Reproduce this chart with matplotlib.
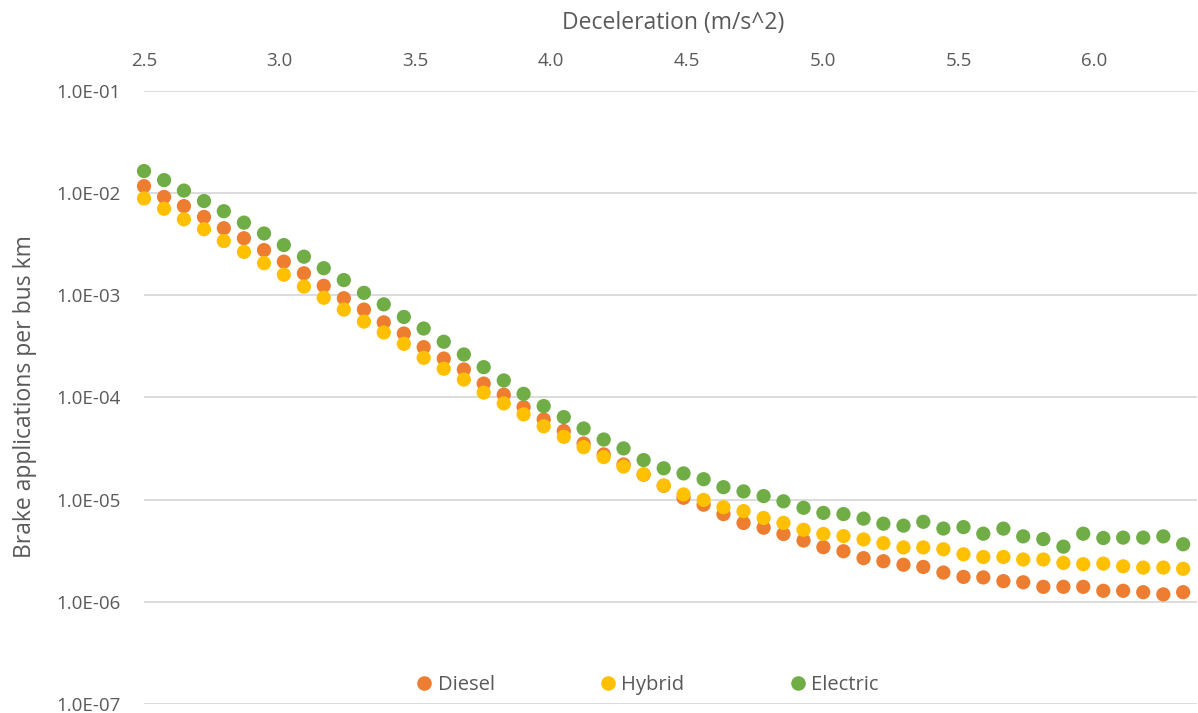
import matplotlib
matplotlib.use("Agg")
import matplotlib.pyplot as plt
from matplotlib.ticker import FixedLocator, FuncFormatter, NullLocator
from matplotlib.lines import Line2D

decel = [2.500, 2.574, 2.647, 2.721, 2.794, 2.868, 2.942, 3.015, 3.089, 3.162,
         3.236, 3.310, 3.383, 3.457, 3.530, 3.604, 3.678, 3.751, 3.825, 3.898,
         3.972, 4.046, 4.119, 4.193, 4.266, 4.340, 4.414, 4.487, 4.561, 4.634,
         4.708, 4.782, 4.855, 4.929, 5.002, 5.076, 5.150, 5.223, 5.297, 5.370,
         5.444, 5.518, 5.591, 5.665, 5.738, 5.812, 5.886, 5.959, 6.033, 6.106,
         6.180, 6.254, 6.327]

diesel = [1.16e-2, 9.1e-3, 7.4e-3, 5.8e-3, 4.5e-3, 3.59e-3, 2.75e-3, 2.12e-3, 1.63e-3, 1.23e-3,
          9.3e-4, 7.2e-4, 5.4e-4, 4.2e-4, 3.09e-4, 2.39e-4, 1.87e-4, 1.36e-4, 1.06e-4, 8.0e-5,
          6.07e-5, 4.67e-5, 3.53e-5, 2.76e-5, 2.2e-5, 1.75e-5, 1.36e-5, 1.04e-5, 8.9e-6, 7.2e-6,
          5.9e-6, 5.3e-6, 4.6e-6, 3.97e-6, 3.42e-6, 3.12e-6, 2.67e-6, 2.49e-6, 2.3e-6, 2.19e-6,
          1.93e-6, 1.75e-6, 1.73e-6, 1.59e-6, 1.55e-6, 1.40e-6, 1.40e-6, 1.40e-6, 1.28e-6, 1.28e-6,
          1.24e-6, 1.18e-6, 1.24e-6]

hybrid = [8.8e-3, 6.98e-3, 5.5e-3, 4.4e-3, 3.37e-3, 2.64e-3, 2.05e-3, 1.58e-3, 1.21e-3, 9.4e-4,
          7.2e-4, 5.5e-4, 4.3e-4, 3.33e-4, 2.43e-4, 1.90e-4, 1.49e-4, 1.11e-4, 8.7e-5, 6.8e-5,
          5.2e-5, 4.1e-5, 3.25e-5, 2.6e-5, 2.1e-5, 1.76e-5, 1.37e-5, 1.12e-5, 9.9e-6, 8.4e-6,
          7.7e-6, 6.6e-6, 5.9e-6, 5.06e-6, 4.6e-6, 4.38e-6, 4.07e-6, 3.74e-6, 3.40e-6, 3.40e-6,
          3.26e-6, 2.91e-6, 2.74e-6, 2.74e-6, 2.59e-6, 2.59e-6, 2.40e-6, 2.33e-6, 2.36e-6, 2.22e-6,
          2.16e-6, 2.16e-6, 2.10e-6]

electric = [1.63e-2, 1.33e-2, 1.05e-2, 8.3e-3, 6.6e-3, 5.1e-3, 4.0e-3, 3.08e-3, 2.37e-3, 1.83e-3,
            1.40e-3, 1.05e-3, 8.1e-4, 6.1e-4, 4.7e-4, 3.49e-4, 2.62e-4, 1.97e-4, 1.46e-4, 1.08e-4,
            8.2e-5, 6.4e-5, 4.95e-5, 3.86e-5, 3.16e-5, 2.43e-5, 2.02e-5, 1.80e-5, 1.58e-5, 1.32e-5,
            1.20e-5, 1.08e-5, 9.6e-6, 8.3e-6, 7.4e-6, 7.2e-6, 6.5e-6, 5.8e-6, 5.55e-6, 6.05e-6,
            5.2e-6, 5.37e-6, 4.63e-6, 5.19e-6, 4.36e-6, 4.10e-6, 3.46e-6, 4.63e-6, 4.20e-6, 4.24e-6,
            4.24e-6, 4.36e-6, 3.65e-6]

series_names = ["Diesel", "Hybrid", "Electric"]
series_colors = ["#ED7D31", "#FFC000", "#70AD47"]
x_ticks = [2.5, 3.0, 3.5, 4.0, 4.5, 5.0, 5.5, 6.0]
y_ticks = [1e-7, 1e-6, 1e-5, 1e-4, 1e-3, 1e-2, 1e-1]

plt.rcParams['font.family'] = ['Open Sans', 'DejaVu Sans']
TXT = "#595959"

fig = plt.figure(figsize=(11.98, 7.13), dpi=100)
ax = fig.add_axes([144/1198, 1 - 704/713, (1197-144)/1198, (704-90.5)/713])

for vals, name, col in zip([diesel, hybrid, electric], series_names, series_colors):
    ax.scatter(decel, vals, s=105, color=col, edgecolors='none', label=name,
               clip_on=False, zorder=3)

ax.set_yscale('log')
ax.set_ylim(1e-7, 1e-1)
ax.set_xlim(2.5, 6.378)

ax.xaxis.tick_top()
ax.xaxis.set_major_locator(FixedLocator(x_ticks))
ax.xaxis.set_minor_locator(NullLocator())
ax.xaxis.set_major_formatter(FuncFormatter(lambda v, p: f"{v:.1f}"))
ax.yaxis.set_major_locator(FixedLocator(y_ticks))
ax.yaxis.set_minor_locator(NullLocator())
ax.yaxis.set_major_formatter(FuncFormatter(lambda v, p: f"{v:.1E}"))

ax.tick_params(axis='x', length=0, pad=15, labelsize=13.5, labelcolor=TXT)
ax.tick_params(axis='y', length=0, pad=17, labelsize=13.5, labelcolor=TXT)

for s in ax.spines.values():
    s.set_visible(False)
ax.grid(True, axis='y', color='#D9D9D9', linewidth=1.3, zorder=0)
ax.set_axisbelow(True)

fig.text(673/1198, 1 - 23/713, "Deceleration (m/s^2)", ha='center', va='center',
         fontsize=16.5, color=TXT)
fig.text(25/1198, 1 - 397/713, "Brake applications per bus km", ha='center', va='center',
         rotation=90, fontsize=16.5, color=TXT)

handles = [Line2D([], [], marker='o', linestyle='none', markersize=10.5,
                  markerfacecolor=c, markeredgecolor='none') for c in series_colors]
leg = fig.legend(handles, series_names, loc='center', bbox_to_anchor=(646.5/1198, 1 - 685/713),
                 ncol=3, frameon=False, fontsize=14.5, handletextpad=0.17, columnspacing=5.12,
                 handlelength=1.0)
for t in leg.get_texts():
    t.set_color(TXT)

fig.savefig("out.png", dpi=100, facecolor='white')
